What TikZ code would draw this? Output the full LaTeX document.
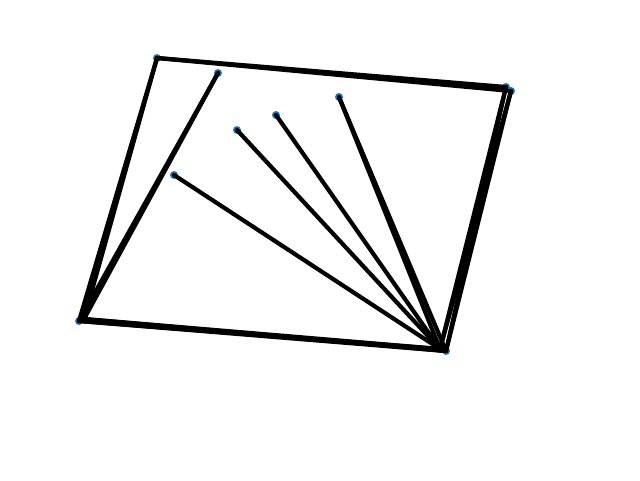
\documentclass[tikz,border=0pt]{standalone}
\usetikzlibrary{positioning}
\definecolor{nxblue}{HTML}{1F77B4}
\tikzset{
  gr node/.style={circle, fill=nxblue, inner sep=0pt, minimum size=8pt},
  gr edge/.style={draw=black, line width=4.2pt, line cap=round}
}
\begin{document}
\begin{tikzpicture}[x=1pt, y=-1pt]
  \useasboundingbox (0,0) rectangle (640,480);
  % nodes
  \node[gr node] (a) at (157,58) {};
  \node[gr node] (b) at (218,73) {};
  \node[gr node] (c) at (174,175) {};
  \node[gr node] (d) at (237,130) {};
  \node[gr node] (e) at (276,115) {};
  \node[gr node] (f) at (339,97) {};
  \node[gr node] (g1) at (506,87) {};
  \node[gr node] (g2) at (511,91) {};
  \node[gr node] (h1) at (79,321) {};
  \node[gr node] (h2) at (84,319) {};
  \node[gr node] (i1) at (440,349) {};
  \node[gr node] (i2) at (446,351) {};
  % edges
  \foreach \u/\v in {a/g1, a/g2, g1/i1, g2/i1, g2/i2, g1/i2, h1/i1, h1/i2,
    h2/i1, h2/i2, a/h1, a/h2, b/h1, b/h2, c/i1, d/i1, e/i1, f/i1, f/i2}
    \draw[gr edge] (\u.center) -- (\v.center);
\end{tikzpicture}
\end{document}
